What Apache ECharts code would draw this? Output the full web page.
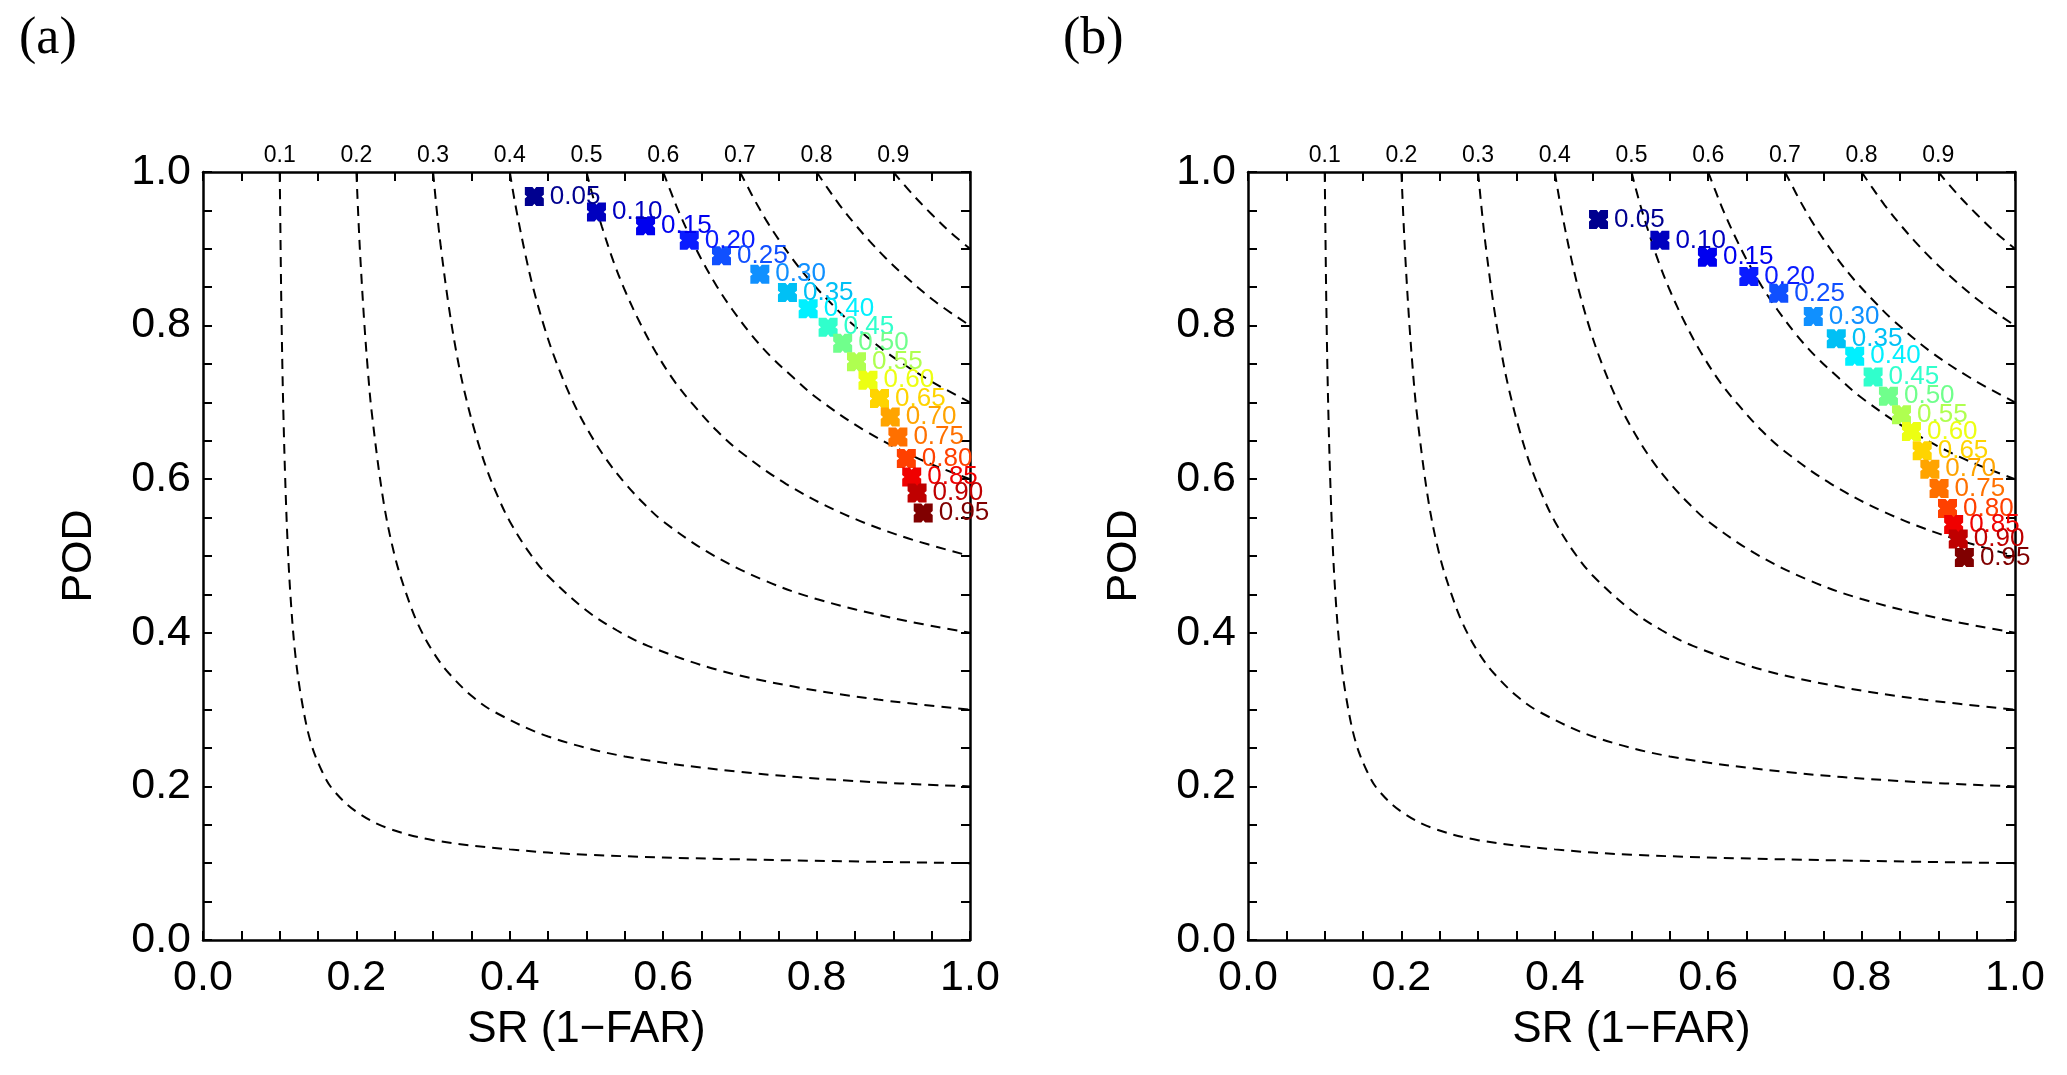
<!DOCTYPE html>
<html>
<head>
<meta charset="utf-8">
<title>Performance diagram</title>
<script src="https://cdn.jsdelivr.net/npm/echarts@6/dist/echarts.min.js"></script>
<style>
    html, body { margin: 0; padding: 0; background: #fff; }
    #chart { width: 2067px; height: 1075px; }
</style>
</head>
<body>
<div id="chart"></div>
<script>
// probability thresholds shown next to each marker
var thresholds = ['0.05', '0.10', '0.15', '0.20', '0.25', '0.30', '0.35', '0.40', '0.45', '0.50',
    '0.55', '0.60', '0.65', '0.70', '0.75', '0.80', '0.85', '0.90', '0.95'];

// panel (a): SR and POD
var srA  = [0.432, 0.513, 0.577, 0.634, 0.676, 0.726, 0.762, 0.789, 0.815, 0.834,
    0.852, 0.867, 0.882, 0.896, 0.906, 0.917, 0.924, 0.931, 0.939];
var podA = [0.968, 0.948, 0.930, 0.911, 0.891, 0.867, 0.843, 0.822, 0.798, 0.777,
    0.753, 0.729, 0.705, 0.681, 0.655, 0.627, 0.603, 0.582, 0.556];

// panel (b)
var srB  = [0.457, 0.537, 0.599, 0.653, 0.692, 0.737, 0.767, 0.791, 0.815, 0.835,
    0.852, 0.865, 0.879, 0.889, 0.901, 0.912, 0.920, 0.926, 0.934];
var podB = [0.938, 0.911, 0.889, 0.864, 0.842, 0.812, 0.783, 0.760, 0.733, 0.708,
    0.684, 0.662, 0.637, 0.613, 0.588, 0.562, 0.541, 0.522, 0.498];

// jet-like colours of the markers
var markerColors = ['#00008f', '#0000bf', '#0000ef', '#0a1cff', '#1050ff', '#1090ff', '#00c0f5', '#00f0ff',
    '#30ffcc', '#70ff8c', '#afff50', '#ecff12', '#ffd400', '#ffa400', '#ff7000', '#ff4000',
    '#f00000', '#bf0000', '#800000'];

// dashed CSI isolines, points [SR, POD]
var csi10 = [[0.100, 1.000], [0.1005, 0.960], [0.101, 0.917], [0.102, 0.836], [0.1035, 0.746], [0.105, 0.678],
    [0.107, 0.606], [0.110, 0.524], [0.114, 0.449], [0.120, 0.375], [0.128, 0.316], [0.140, 0.259],
    [0.155, 0.220], [0.170, 0.195], [0.200, 0.167], [0.240, 0.146], [0.300, 0.130], [0.400, 0.118],
    [0.500, 0.111], [0.700, 0.105], [1.000, 0.100]];
var csi20 = [[0.200, 1.000], [0.2025, 0.942], [0.205, 0.891], [0.210, 0.808], [0.215, 0.741], [0.220, 0.687],
    [0.235, 0.573], [0.250, 0.500], [0.265, 0.451], [0.280, 0.412], [0.300, 0.375], [0.320, 0.348],
    [0.350, 0.318], [0.380, 0.297], [0.450, 0.265], [0.550, 0.239], [0.700, 0.219], [0.850, 0.207], [1.000, 0.200]];
var csi30 = [[0.300, 1.000], [0.305, 0.948], [0.310, 0.903], [0.320, 0.828], [0.330, 0.767], [0.340, 0.718],
    [0.355, 0.660], [0.370, 0.613], [0.385, 0.576], [0.400, 0.545], [0.425, 0.505], [0.450, 0.474],
    [0.500, 0.429], [0.540, 0.403], [0.580, 0.383], [0.670, 0.352], [0.770, 0.330], [0.880, 0.313], [1.000, 0.300]];
var csi40 = [[0.400, 1.000], [0.405, 0.970], [0.410, 0.943], [0.420, 0.894], [0.430, 0.851], [0.445, 0.798],
    [0.460, 0.754], [0.480, 0.706], [0.500, 0.667], [0.525, 0.627], [0.550, 0.595], [0.575, 0.568],
    [0.600, 0.545], [0.660, 0.504], [0.730, 0.469], [0.800, 0.444], [0.900, 0.419], [1.000, 0.400]];
var csi50 = [[0.500, 1.000], [0.510, 0.962], [0.520, 0.929], [0.535, 0.884], [0.550, 0.846], [0.570, 0.803],
    [0.590, 0.766], [0.615, 0.727], [0.640, 0.696], [0.670, 0.663], [0.700, 0.636], [0.760, 0.594],
    [0.830, 0.557], [0.910, 0.526], [1.000, 0.500]];
var csi60 = [[0.600, 1.000], [0.610, 0.974], [0.620, 0.949], [0.635, 0.916], [0.650, 0.886], [0.670, 0.851],
    [0.690, 0.821], [0.715, 0.788], [0.740, 0.760], [0.770, 0.732], [0.800, 0.706], [0.860, 0.665],
    [0.930, 0.628], [1.000, 0.600]];
var csi70 = [[0.700, 1.000], [0.710, 0.981], [0.720, 0.962], [0.735, 0.936], [0.750, 0.913], [0.770, 0.885],
    [0.790, 0.860], [0.815, 0.833], [0.840, 0.808], [0.890, 0.766], [0.945, 0.730], [1.000, 0.700]];
var csi80 = [[0.800, 1.000], [0.815, 0.978], [0.830, 0.957], [0.850, 0.932], [0.870, 0.909], [0.890, 0.888],
    [0.910, 0.869], [0.955, 0.831], [1.000, 0.800]];
var csi90 = [[0.900, 1.000], [0.925, 0.971], [0.950, 0.945], [0.975, 0.921], [1.000, 0.900]];
var csiLines = [csi10, csi20, csi30, csi40, csi50, csi60, csi70, csi80, csi90];

var sansFont = '"Liberation Sans", Arial, Helvetica, sans-serif';
var markerPath = 'path://M0,0 L4,0 L5,1.2 L6,0 L10,0 L10,4 L8.8,5 L10,6 L10,10 L6,10 L5,8.8 L4,10 L0,10 L0,6 L1.2,5 L0,4 Z';

var chart = echarts.init(document.getElementById('chart'));

var axisLineStyle = { show: true, onZero: false, lineStyle: { color: '#000', width: 2.5 } };
function tickOpt() {
    return { show: true, inside: true, length: 9, lineStyle: { color: '#000', width: 2 } };
}
function minorOpt(n) {
    return { show: true, splitNumber: n, length: 9, lineStyle: { color: '#000', width: 2 } };
}

var grids = [
    { left: 203, top: 172, width: 767, height: 768, outerBoundsMode: 'none' },
    { left: 1248, top: 172, width: 767, height: 768, outerBoundsMode: 'none' }
];
var xAxes = [];
var yAxes = [];
for (var g = 0; g < 2; g++) {
    xAxes.push({
        gridIndex: g, type: 'value', position: 'bottom', min: 0, max: 1, interval: 0.2,
        axisLine: axisLineStyle, axisTick: tickOpt(), minorTick: minorOpt(4),
        splitLine: { show: false }, minorSplitLine: { show: false },
        axisLabel: {
            fontSize: 43, color: '#000', fontFamily: sansFont, margin: 17,
            formatter: function (v) { return v.toFixed(1); }
        },
        name: 'SR (1\u2212FAR)', nameLocation: 'middle', nameGap: 68,
        nameTextStyle: { fontSize: 44, color: '#000', fontFamily: sansFont }
    });
    xAxes.push({
        gridIndex: g, type: 'value', position: 'top', min: 0, max: 1, interval: 0.1,
        axisLine: axisLineStyle, axisTick: tickOpt(), minorTick: minorOpt(2),
        splitLine: { show: false }, minorSplitLine: { show: false },
        axisLabel: {
            fontSize: 23, color: '#000', fontFamily: sansFont, margin: 5,
            formatter: function (v) { return (v > 0.01 && v < 0.99) ? v.toFixed(1) : ''; }
        }
    });
    yAxes.push({
        gridIndex: g, type: 'value', position: 'left', min: 0, max: 1, interval: 0.2,
        axisLine: axisLineStyle, axisTick: tickOpt(), minorTick: minorOpt(4),
        splitLine: { show: false }, minorSplitLine: { show: false },
        axisLabel: {
            fontSize: 43, color: '#000', fontFamily: sansFont, margin: 12,
            formatter: function (v) { return v.toFixed(1); }
        },
        name: 'POD', nameLocation: 'middle', nameGap: 102,
        nameTextStyle: { fontSize: 43, color: '#000', fontFamily: sansFont }
    });
    yAxes.push({
        gridIndex: g, type: 'value', position: 'right', min: 0, max: 1, interval: 0.2,
        axisLine: axisLineStyle, axisTick: tickOpt(), minorTick: minorOpt(4),
        splitLine: { show: false }, minorSplitLine: { show: false },
        axisLabel: { show: false }
    });
}

var series = [];
for (var p = 0; p < 2; p++) {
    for (var k = 0; k < csiLines.length; k++) {
        series.push({
            type: 'line', xAxisIndex: p * 2, yAxisIndex: p * 2,
            data: csiLines[k], showSymbol: false, silent: true, z: 1,
            smooth: 0.35,
            lineStyle: { color: '#000', width: 2, type: [10, 7] }
        });
    }
}

function markerData(sr, pod) {
    var out = [];
    for (var i = 0; i < sr.length; i++) {
        out.push({
            value: [sr[i], pod[i]],
            itemStyle: { color: markerColors[i], opacity: 1 },
            label: { formatter: thresholds[i], color: markerColors[i] }
        });
    }
    return out;
}
var panels = [[srA, podA], [srB, podB]];
for (var q = 0; q < 2; q++) {
    series.push({
        type: 'scatter', xAxisIndex: q * 2, yAxisIndex: q * 2, z: 5,
        symbol: markerPath, symbolSize: 19,
        itemStyle: { opacity: 1 },
        data: markerData(panels[q][0], panels[q][1]),
        label: { show: true, position: 'right', distance: 6, fontSize: 26, fontFamily: sansFont }
    });
}

var option = {
    animation: false,
    backgroundColor: '#fff',
    title: [
        { text: '(a)', left: 14, top: 8, textStyle: { fontFamily: '"Liberation Serif", "Times New Roman", serif', fontSize: 52, fontWeight: 'normal', color: '#000' } },
        { text: '(b)', left: 1058, top: 8, textStyle: { fontFamily: '"Liberation Serif", "Times New Roman", serif', fontSize: 52, fontWeight: 'normal', color: '#000' } }
    ],
    grid: grids,
    xAxis: xAxes,
    yAxis: yAxes,
    series: series
};
chart.setOption(option);
</script>
</body>
</html>
